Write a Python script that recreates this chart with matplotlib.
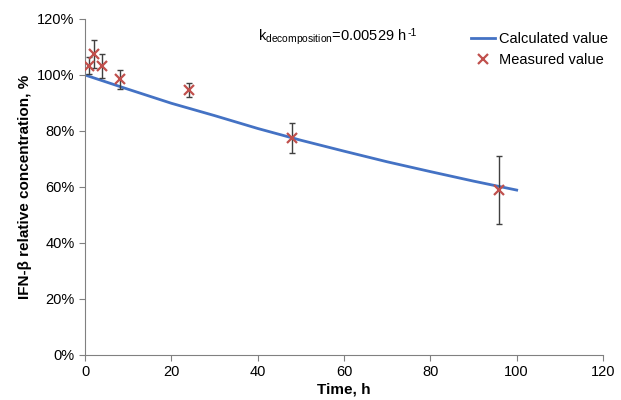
#Plots IFN-beta decomposition: calculated curve vs measured points

import matplotlib.pyplot as plt
from matplotlib.ticker import FuncFormatter

plt.rcParams['font.family'] = ['Liberation Sans', 'DejaVu Sans']

#----------Data----------
calc_time = [0, 10, 20, 30, 40, 50, 60, 70, 80, 90, 100]
calc_value = [100, 94.9, 89.9, 85.5, 80.9, 76.7, 72.8, 69.0, 65.5, 62.1, 58.9]

meas_time = [1, 2, 4, 8, 24, 48, 96]
meas_value = [103.3, 107.5, 103.3, 98.4, 94.8, 77.5, 58.9]
meas_err = [3.0, 5.0, 4.3, 3.3, 2.5, 5.3, 12.0]

x_ticks = [0, 20, 40, 60, 80, 100, 120]
y_ticks = [0, 20, 40, 60, 80, 100, 120]

fig = plt.figure(figsize=(6.21, 4.0), dpi=100)
ax = fig.add_axes([0.137, 0.1125, 0.834, 0.84])

ax.plot(calc_time, calc_value, color="#4472C4", linewidth=2, label="Calculated value")
ax.errorbar(meas_time, meas_value, yerr=meas_err, fmt="none", ecolor="#404040",
            elinewidth=1, capsize=2.5, capthick=1, zorder=3)
ax.plot(meas_time, meas_value, linestyle="none", marker="x", markersize=7,
        markeredgewidth=1.6, color="#C0504D", label="Measured value", zorder=4)

ax.set_xlim(0, 120)
ax.set_ylim(0, 120)
ax.set_xticks(x_ticks)
ax.set_yticks(y_ticks)
ax.yaxis.set_major_formatter(FuncFormatter(lambda v, p: f"{v:.0f}%"))
ax.tick_params(direction="out", length=4, color="#808080", labelsize=10.5)

for side in ["top", "right"]:
    ax.spines[side].set_visible(False)
for side in ["left", "bottom"]:
    ax.spines[side].set_color("#808080")

ax.set_xlabel("Time, h", fontsize=11, fontweight="bold", labelpad=2)
ax.set_ylabel("IFN-β relative concentration, %", fontsize=11, fontweight="bold")

#k label, hyphen in the exponent like the original
k_txt = ax.text(40, 113.5, r"k$_{\mathregular{decomposition}}$=0.00529 h",
                fontsize=10.5, va="center")
ax.annotate("-1", xy=(1, 0.5), xycoords=k_txt, xytext=(0.5, 3),
            textcoords="offset points", fontsize=7.5, va="center", ha="left")

ax.legend(loc="upper right", bbox_to_anchor=(1.035, 1.0), frameon=False,
          fontsize=10.5, handlelength=1.6, handletextpad=0.3, labelspacing=0.45)

plt.savefig("out.png", dpi=100)
